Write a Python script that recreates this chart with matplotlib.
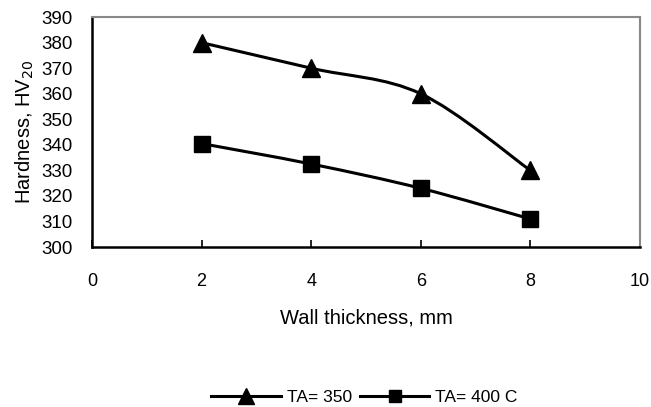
import matplotlib
matplotlib.use("Agg")
import matplotlib.pyplot as plt
import numpy as np
from matplotlib.path import Path
from matplotlib.patches import PathPatch
from matplotlib.lines import Line2D

plt.rcParams["font.family"] = ["Liberation Sans", "DejaVu Sans"]

thickness = [2, 4, 6, 8]
hv_350 = [380, 370, 360, 330]
hv_400 = [340.5, 332.5, 323, 311]
labels = ["TA= 350", "TA= 400 C"]


def smooth_path(xs, ys):
    """Excel-style smoothed line as Bezier segments through the points."""
    xs = np.asarray(xs, float)
    ys = np.asarray(ys, float)
    px = np.hstack([xs[0], xs, xs[-1]])
    py = np.hstack([ys[0], ys, ys[-1]])
    verts = [(xs[0], ys[0])]
    codes = [Path.MOVETO]
    for i in range(1, len(xs)):
        c1 = (px[i] + (px[i + 1] - px[i - 1]) / 6, py[i] + (py[i + 1] - py[i - 1]) / 6)
        c2 = (px[i + 1] - (px[i + 2] - px[i]) / 6, py[i + 1] - (py[i + 2] - py[i]) / 6)
        verts += [c1, c2, (xs[i], ys[i])]
        codes += [Path.CURVE4] * 3
    return Path(verts, codes)


fig = plt.figure(figsize=(6.51, 4.07), dpi=100)
ax = fig.add_axes([0.1413, 0.393, 0.8417, 0.565])

for ys, mk in [(hv_350, "^"), (hv_400, "s")]:
    ax.add_patch(PathPatch(smooth_path(thickness, ys), fill=False,
                           edgecolor="black", lw=2.2))
    ax.plot(thickness, ys, ls="none", marker=mk, ms=13 if mk == "^" else 11.5,
            color="black")

ax.set_xlim(0, 10)
ax.set_ylim(300, 390)
ax.set_xticks(np.arange(0, 11, 2))
ax.set_yticks(np.arange(300, 391, 10))
ax.tick_params(axis="x", direction="in", length=5, width=1.2, pad=19,
               labelsize=13)
ax.tick_params(axis="y", length=0, pad=14, labelsize=13.5)
for s in ["left", "bottom"]:
    ax.spines[s].set_linewidth(1.8)
for s in ["top", "right"]:
    ax.spines[s].set_color("#888888")
    ax.spines[s].set_linewidth(1.5)

ax.set_xlabel("Wall thickness, mm", fontsize=14.5, labelpad=13)
ax.set_ylabel("Hardness, HV$_{20}$", fontsize=14.5, labelpad=4)

handles = [Line2D([], [], color="black", lw=2.2, marker="^", ms=11),
           Line2D([], [], color="black", lw=2.2, marker="s", ms=9)]
fig.legend(handles, labels, loc="center", bbox_to_anchor=(0.56, 0.024),
           ncol=2, frameon=False, fontsize=12.5, handlelength=4.0,
           columnspacing=0.45, handletextpad=0.35, borderpad=0)

fig.savefig("out.png", dpi=100)
